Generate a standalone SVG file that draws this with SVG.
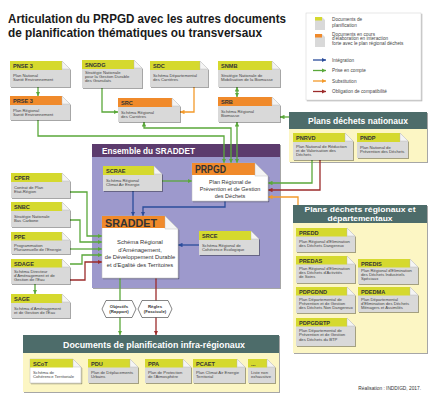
<svg xmlns="http://www.w3.org/2000/svg" width="429" height="400" viewBox="0 0 429 400">
<defs>
<filter id="sh" x="-10%" y="-10%" width="130%" height="130%"><feDropShadow dx="1" dy="1" stdDeviation="0.6" flood-color="#000" flood-opacity="0.35"/></filter>
<marker id="mg" viewBox="0 0 6 6" refX="6" refY="3" markerWidth="4.5" markerHeight="4.5" markerUnits="userSpaceOnUse" orient="auto-start-reverse"><path d="M0,0L6,3L0,6z" fill="#5aa83a"/></marker>
<marker id="mb" viewBox="0 0 6 6" refX="6" refY="3" markerWidth="4.5" markerHeight="4.5" markerUnits="userSpaceOnUse" orient="auto-start-reverse"><path d="M0,0L6,3L0,6z" fill="#2b4d9b"/></marker>
<marker id="mo" viewBox="0 0 6 6" refX="6" refY="3" markerWidth="4.5" markerHeight="4.5" markerUnits="userSpaceOnUse" orient="auto-start-reverse"><path d="M0,0L6,3L0,6z" fill="#f39a2b"/></marker>
<marker id="mr" viewBox="0 0 6 6" refX="6" refY="3" markerWidth="4.5" markerHeight="4.5" markerUnits="userSpaceOnUse" orient="auto-start-reverse"><path d="M0,0L6,3L0,6z" fill="#9c2b2b"/></marker>
<style>
.db{fill:#d9d9d9;filter:url(#sh)}
.dw{fill:#fff;stroke:#b8b8b8;stroke-width:.5;filter:url(#sh)}
.hy{fill:#d5d92e}
.ho{fill:#f08a2b}
.fd{fill:#f4f4f4;stroke:#b0b0b0;stroke-width:.4}
.hd{font-family:'Liberation Sans',sans-serif;font-weight:bold;font-size:5.6px;fill:#333}
.bd{font-family:'Liberation Sans',sans-serif;font-size:4.2px;fill:#444}
.bc{font-family:'Liberation Sans',sans-serif;fill:#333;text-anchor:middle}
.th{fill:#4e6c6b;filter:url(#sh)}
.tb{fill:#fcf6c4;filter:url(#sh)}
.tt{font-family:'Liberation Sans',sans-serif;font-weight:bold;fill:#fff;text-anchor:middle}
.g{stroke:#5aa83a}.b{stroke:#2b4d9b}.o{stroke:#f39a2b}.r{stroke:#9c2b2b}
.lg{font-family:'Liberation Sans',sans-serif;font-size:4.7px;fill:#444}
.hx{fill:#fff;stroke:#333;stroke-width:.6}
.hxt{font-family:'Liberation Sans',sans-serif;font-weight:bold;font-size:4.3px;fill:#333;text-anchor:middle}
</style>
</defs>
<rect width="429" height="400" fill="#fff"/>

<g id="title" font-family="'Liberation Sans',sans-serif" font-weight="bold" font-size="12.5" fill="#1a1a1a">
<text x="8" y="23" textLength="278" lengthAdjust="spacingAndGlyphs">Articulation du PRPGD avec les autres documents</text>
<text x="8" y="37" textLength="254" lengthAdjust="spacingAndGlyphs">de planification thématiques ou transversaux</text>
</g>

<g id="legend">
<rect x="306" y="13" width="115" height="87" fill="#fff" stroke="#d0d0d0" stroke-width=".5" filter="url(#sh)"/>
<path d="M315,17h7l3,3v10h-10z" fill="#d9d9d9"/><rect x="315" y="17" width="7" height="3.5" class="hy"/>
<path d="M315,34h7l3,3v10h-10z" fill="#d9d9d9"/><rect x="315" y="34" width="7" height="3.5" class="ho"/>
<text class="lg" x="332" y="21">Documents de</text>
<text class="lg" x="332" y="26.5">planification</text>
<text class="lg" x="332" y="35.5">Documents en cours</text>
<text class="lg" x="332" y="40.3">d'élaboration en interaction</text>
<text class="lg" x="332" y="45.1">forte avec le plan régional déchets</text>
<path class="b" d="M313,60H326" fill="none" stroke-width="1.3" marker-end="url(#mb)"/>
<path class="g" d="M313,70.5H326" fill="none" stroke-width="1.3" marker-end="url(#mg)"/>
<path class="o" d="M313,81H326" fill="none" stroke-width="1.3" marker-end="url(#mo)"/>
<path class="r" d="M313,91.5H326" fill="none" stroke-width="1.3" marker-end="url(#mr)"/>
<text class="lg" x="332" y="61.6">Intégration</text>
<text class="lg" x="332" y="72.1">Prise en compte</text>
<text class="lg" x="332" y="82.6">Substitution</text>
<text class="lg" x="332" y="93.1">Obligation de compatibilité</text>
</g>

<g id="ensemble-sraddet">
<rect x="92" y="144" width="188" height="13" fill="#5b3b6d" filter="url(#sh)"/>
<rect x="92" y="157" width="188" height="131" fill="#9d99cc" filter="url(#sh)"/>
<text class="tt" x="102" y="153.5" font-size="9.5" style="text-anchor:start" textLength="93" lengthAdjust="spacingAndGlyphs">Ensemble du SRADDET</text>
</g>

<g id="plans-nationaux">
<rect class="th" x="289" y="112" width="138" height="17"/>
<rect class="tb" x="289" y="129" width="138" height="33"/>
<text class="tt" x="358" y="124" font-size="9" textLength="100" lengthAdjust="spacingAndGlyphs">Plans déchets nationaux</text>
</g>

<g id="plans-regionaux">
<rect class="th" x="293" y="205" width="134" height="18"/>
<rect class="tb" x="293" y="223" width="134" height="130"/>
<text class="tt" x="360" y="212" font-size="7.8" textLength="111" lengthAdjust="spacingAndGlyphs">Plans déchets régionaux et</text>
<text class="tt" x="360" y="220.5" font-size="7.8" textLength="65" lengthAdjust="spacingAndGlyphs">départementaux</text>
</g>

<g id="infra-regionaux">
<rect class="th" x="23" y="335" width="256" height="18"/>
<rect class="tb" x="23" y="353" width="256" height="39"/>
<text class="tt" x="154" y="347.5" font-size="9" textLength="182" lengthAdjust="spacingAndGlyphs">Documents de planification infra-régionaux</text>
</g>

<g id="connectors" fill="none" stroke-width="1.3">
<path class="g" d="M38,87V96" marker-end="url(#mg)"/>
<path class="g" d="M102,88V112H118" marker-end="url(#mg)"/>
<path class="o" d="M194,87V112H180" marker-end="url(#mo)"/>
<path class="g" d="M237,87V97" marker-start="url(#mg)" marker-end="url(#mg)"/>
<path class="g" d="M38,120V136H224V163" marker-end="url(#mg)"/>
<path class="g" d="M144,122V128H231V163" marker-start="url(#mg)" marker-end="url(#mg)"/>
<path class="g" d="M237,122V163" marker-start="url(#mg)" marker-end="url(#mg)"/>
<path class="g" d="M289,117H280" marker-end="url(#mg)"/>
<path class="g" d="M312,160V183H268" marker-end="url(#mg)"/>
<path class="r" d="M320,160V190H268" marker-end="url(#mr)"/>
<path class="o" d="M298,205V197H268" marker-end="url(#mo)"/>
<path class="g" d="M162,181H192" marker-end="url(#mg)"/>
<path class="b" d="M133,191V216" marker-end="url(#mb)"/>
<path class="b" d="M225,201V207H143V216" marker-end="url(#mb)"/>
<path class="b" d="M199,245H178" marker-end="url(#mb)"/>
<path class="g" d="M70,192H87V236H102" marker-end="url(#mg)"/>
<path class="g" d="M70,220H80V242H102" marker-end="url(#mg)"/>
<path class="g" d="M70,249H102" marker-end="url(#mg)"/>
<path class="g" d="M70,264H82V255H102" marker-end="url(#mg)"/>
<path class="r" d="M70,280H85V262H102" marker-end="url(#mr)"/>
<path class="g" d="M35,284V294" marker-end="url(#mg)"/>
<path class="g" d="M120,278V335" marker-end="url(#mg)"/>
<path class="r" d="M156,278V335" marker-end="url(#mr)"/>
</g>

<g id="edge-labels">
<path class="hx" d="M102,309L106,300.5H132L136,309L132,317.5H106z"/>
<text class="hxt" x="119" y="307.6">Objectifs</text><text class="hxt" x="119" y="312.6">(Rapport)</text>
<path class="hx" d="M138,309L142,300.5H168L172,309L168,317.5H142z"/>
<text class="hxt" x="155" y="307.6">Règles</text><text class="hxt" x="155" y="312.6">(Fascicule)</text>
</g>

<g id="PNSE3"><path class="db" d="M10,61h52l8,8v18h-60z"/><rect class="hy" x="10" y="61" width="52" height="9"/><path class="fd" d="M62,61v8h8z"/>
<text class="hd" x="13" y="68">PNSE 3</text><text class="bd" x="13" y="76.5">Plan National</text><text class="bd" x="13" y="80.7">Santé Environnement</text></g>
<g id="SNGDG"><path class="db" d="M82,60h52l8,8v20h-60z"/><rect class="hy" x="82" y="60" width="52" height="9"/><path class="fd" d="M134,60v8h8z"/>
<text class="hd" x="85" y="67">SNGDG</text><text class="bd" x="85" y="73.5">Stratégie Nationale</text><text class="bd" x="85" y="77.9">pour la Gestion Durable</text><text class="bd" x="85" y="82.3">des Granulats</text></g>
<g id="SDC"><path class="db" d="M150,61h50l8,8v18h-58z"/><rect class="hy" x="150" y="61" width="50" height="9"/><path class="fd" d="M200,61v8h8z"/>
<text class="hd" x="153" y="68">SDC</text><text class="bd" x="153" y="76.5">Schéma Départemental</text><text class="bd" x="153" y="80.7">des Carrières</text></g>
<g id="SNMB"><path class="db" d="M218,61h54l8,8v18h-62z"/><rect class="hy" x="218" y="61" width="54" height="9"/><path class="fd" d="M272,61v8h8z"/>
<text class="hd" x="221" y="68">SNMB</text><text class="bd" x="221" y="76.5">Stratégie Nationale de</text><text class="bd" x="221" y="80.7">Mobilisation de la Biomasse</text></g>
<g id="PRSE3"><path class="db" d="M10,96h52l8,8v16h-60z"/><rect class="ho" x="10" y="96" width="52" height="9"/><path class="fd" d="M62,96v8h8z"/>
<text class="hd" x="13" y="103">PRSE 3</text><text class="bd" x="13" y="111.5">Plan Régional</text><text class="bd" x="13" y="115.7">Santé Environnement</text></g>
<g id="SRC"><path class="db" d="M118,98h54l8,8v16h-62z"/><rect class="ho" x="118" y="98" width="54" height="9"/><path class="fd" d="M172,98v8h8z"/>
<text class="hd" x="121" y="105">SRC</text><text class="bd" x="121" y="113.5">Schéma Régional</text><text class="bd" x="121" y="117.7">des Carrières</text></g>
<g id="SRB"><path class="db" d="M218,97h54l8,8v17h-62z"/><rect class="ho" x="218" y="97" width="54" height="9"/><path class="fd" d="M272,97v8h8z"/>
<text class="hd" x="221" y="104">SRB</text><text class="bd" x="221" y="112.5">Schéma Régional</text><text class="bd" x="221" y="116.7">Biomasse</text></g>

<g id="CPER"><path class="db" d="M11,173h51l8,8v17h-59z"/><rect class="hy" x="11" y="173" width="51" height="9"/><path class="fd" d="M62,173v8h8z"/>
<text class="hd" x="14" y="180">CPER</text><text class="bd" x="14" y="188.5">Contrat de Plan</text><text class="bd" x="14" y="192.7">Etat-Région</text></g>
<g id="SNBC"><path class="db" d="M11,202h51l8,8v17h-59z"/><rect class="hy" x="11" y="202" width="51" height="9"/><path class="fd" d="M62,202v8h8z"/>
<text class="hd" x="14" y="209">SNBC</text><text class="bd" x="14" y="217.5">Stratégie Nationale</text><text class="bd" x="14" y="221.7">Bas Carbone</text></g>
<g id="PPE"><path class="db" d="M11,232h51l8,8v14h-59z"/><rect class="hy" x="11" y="232" width="51" height="8.5"/><path class="fd" d="M62,232v8h8z"/>
<text class="hd" x="14" y="238.8">PPE</text><text class="bd" x="14" y="246.5">Programmation</text><text class="bd" x="14" y="250.7">Pluriannuelle de l'Energie</text></g>
<g id="SDAGE"><path class="db" d="M11,259h51l8,8v17h-59z"/><rect class="hy" x="11" y="259" width="51" height="8.5"/><path class="fd" d="M62,259v8h8z"/>
<text class="hd" x="14" y="265.8">SDAGE</text><text class="bd" x="14" y="272.5">Schéma Directeur</text><text class="bd" x="14" y="276.7">d'Aménagement et de</text><text class="bd" x="14" y="280.9">Gestion de l'Eau</text></g>
<g id="SAGE"><path class="db" d="M11,294h51l8,8v16h-59z"/><rect class="hy" x="11" y="294" width="51" height="9"/><path class="fd" d="M62,294v8h8z"/>
<text class="hd" x="14" y="301">SAGE</text><text class="bd" x="14" y="309.5">Schéma d'Aménagement</text><text class="bd" x="14" y="313.7">et de Gestion de l'Eau</text></g>

<g id="SCRAE"><path class="db" d="M103,166h51l8,8v17h-59z"/><rect class="hy" x="103" y="166" width="51" height="9"/><path class="fd" d="M154,166v8h8z"/>
<text class="hd" x="106" y="173">SCRAE</text><text class="bd" x="106" y="181.5">Schéma Régional</text><text class="bd" x="106" y="185.7">Climat Air Energie</text></g>
<g id="SRCE"><path class="db" d="M199,231h52l8,8v16h-60z"/><rect class="hy" x="199" y="231" width="52" height="9"/><path class="fd" d="M251,231v8h8z"/>
<text class="hd" x="202" y="238">SRCE</text><text class="bd" x="202" y="246.5">Schéma Régional de</text><text class="bd" x="202" y="250.7">Cohérence Ecologique</text></g>
<g id="PRPGD"><path class="dw" d="M192,163h63l13,13v25h-76z"/><rect class="ho" x="192" y="163" width="63" height="12"/><path class="fd" d="M255,163v13h13z"/>
<text class="hd" x="195" y="173.3" style="font-size:11px" textLength="31" lengthAdjust="spacingAndGlyphs">PRPGD</text>
<text class="bc" x="230" y="184" font-size="5.5">Plan Régional de</text><text class="bc" x="230" y="191" font-size="5.5">Prévention et de Gestion</text><text class="bc" x="230" y="198" font-size="5.5">des Déchets</text></g>
<g id="SRADDET"><path class="dw" d="M102,216h63l13,13v49h-76z"/><rect class="ho" x="102" y="216" width="63" height="12"/><path class="fd" d="M165,216v13h13z"/>
<text class="hd" x="105" y="226.8" style="font-size:11.5px" textLength="52" lengthAdjust="spacingAndGlyphs">SRADDET</text>
<text class="bc" x="140" y="244" font-size="5.8">Schéma Régional</text><text class="bc" x="140" y="251.5" font-size="5.8">d'Aménagement,</text><text class="bc" x="140" y="259" font-size="5.8">de Développement Durable</text><text class="bc" x="140" y="266.5" font-size="5.8">et d'Egalité des Territoires</text></g>

<g id="PNRVD"><path class="db" d="M293,133h52l8,8v19h-60z"/><rect class="hy" x="293" y="133" width="52" height="9"/><path class="fd" d="M345,133v8h8z"/>
<text class="hd" x="296" y="140">PNRVD</text><text class="bd" x="296" y="147.5">Plan National de Réduction</text><text class="bd" x="296" y="151.9">et de Valorisation des</text><text class="bd" x="296" y="156.3">Déchets</text></g>
<g id="PNDP"><path class="db" d="M357,133h43l8,8v17h-51z"/><rect class="hy" x="357" y="133" width="43" height="9"/><path class="fd" d="M400,133v8h8z"/>
<text class="hd" x="360" y="140">PNDP</text><text class="bd" x="360" y="148.5">Plan National de</text><text class="bd" x="360" y="152.7">Prévention des Déchets</text></g>

<g id="PREDD"><path class="db" d="M296,228h51l8,8v16h-59z"/><rect class="hy" x="296" y="228" width="51" height="8.5"/><path class="fd" d="M347,228v8h8z"/>
<text class="hd" x="299" y="234.8">PREDD</text><text class="bd" x="299" y="242.5">Plan Régional d'Elimination</text><text class="bd" x="299" y="246.9">des Déchets Dangereux</text></g>
<g id="PREDAS"><path class="db" d="M296,256h51l8,8v19h-59z"/><rect class="hy" x="296" y="256" width="51" height="8.5"/><path class="fd" d="M347,256v8h8z"/>
<text class="hd" x="299" y="262.8">PREDAS</text><text class="bd" x="299" y="269.5">Plan Régional d'Elimination</text><text class="bd" x="299" y="273.9">des Déchets d'Activités</text><text class="bd" x="299" y="278.3">de Soins</text></g>
<g id="PREDIS"><path class="db" d="M358,259h52l8,8v17h-60z"/><rect class="hy" x="358" y="259" width="52" height="8.5"/><path class="fd" d="M410,259v8h8z"/>
<text class="hd" x="361" y="265.8">PREDIS</text><text class="bd" x="361" y="271.5">Plan Régional d'Elimination</text><text class="bd" x="361" y="275.9">des Déchets Industriels</text><text class="bd" x="361" y="280.3">Spéciaux</text></g>
<g id="PDPGDND"><path class="db" d="M296,287h51l8,8v18h-59z"/><rect class="hy" x="296" y="287" width="51" height="8.5"/><path class="fd" d="M347,287v8h8z"/>
<text class="hd" x="299" y="293.8">PDPGDND</text><text class="bd" x="299" y="300.5">Plan Départemental de</text><text class="bd" x="299" y="304.9">Prévention et de Gestion</text><text class="bd" x="299" y="309.3">des Déchets Non Dangereux</text></g>
<g id="PDEDMA"><path class="db" d="M358,287h52l8,8v17h-60z"/><rect class="hy" x="358" y="287" width="52" height="8.5"/><path class="fd" d="M410,287v8h8z"/>
<text class="hd" x="361" y="293.8">PDEDMA</text><text class="bd" x="361" y="300.5">Plan Départemental</text><text class="bd" x="361" y="304.9">d'Elimination des Déchets</text><text class="bd" x="361" y="309.3">Ménagers et Assimilés</text></g>
<g id="PDPGDBTP"><path class="db" d="M296,318h51l8,8v20h-59z"/><rect class="hy" x="296" y="318" width="51" height="8.5"/><path class="fd" d="M347,318v8h8z"/>
<text class="hd" x="299" y="324.8">PDPGDBTP</text><text class="bd" x="299" y="332">Plan Départemental de</text><text class="bd" x="299" y="336.4">Prévention et de Gestion</text><text class="bd" x="299" y="340.8">des Déchets du BTP</text></g>

<g id="SCoT"><path class="dw" d="M30,359h43l8,8v16h-51z"/><rect class="hy" x="30" y="359" width="43" height="8.5"/><path class="fd" d="M73,359v8h8z"/>
<text class="hd" x="33" y="365.8">SCoT</text><text class="bd" x="33" y="373.5">Schéma de</text><text class="bd" x="33" y="377.9">Cohérence Territoriale</text></g>
<g id="PDU"><path class="db" d="M88,359h42l8,8v16h-50z"/><rect class="hy" x="88" y="359" width="42" height="8.5"/><path class="fd" d="M130,359v8h8z"/>
<text class="hd" x="91" y="365.8">PDU</text><text class="bd" x="91" y="373.5">Plan de Déplacements</text><text class="bd" x="91" y="377.9">Urbains</text></g>
<g id="PPA"><path class="db" d="M145,359h38l8,8v16h-46z"/><rect class="hy" x="145" y="359" width="38" height="8.5"/><path class="fd" d="M183,359v8h8z"/>
<text class="hd" x="148" y="365.8">PPA</text><text class="bd" x="148" y="373.5">Plan de Protection</text><text class="bd" x="148" y="377.9">de l'Atmosphère</text></g>
<g id="PCAET"><path class="db" d="M193,359h44l8,8v16h-52z"/><rect class="hy" x="193" y="359" width="44" height="8.5"/><path class="fd" d="M237,359v8h8z"/>
<text class="hd" x="196" y="365.8">PCAET</text><text class="bd" x="196" y="373.5">Plan Climat Air Energie</text><text class="bd" x="196" y="377.9">Territorial</text></g>
<g id="autres"><path class="db" d="M248,359h19l8,8v16h-27z"/><rect class="hy" x="248" y="359" width="19" height="8.5"/><path class="fd" d="M267,359v8h8z"/>
<text class="hd" x="251" y="365.8">...</text><text class="bd" x="251" y="373.5">Liste non</text><text class="bd" x="251" y="377.9">exhaustive</text></g>

<text x="421" y="390" font-family="'Liberation Sans',sans-serif" font-size="4.8" fill="#333" text-anchor="end">Réalisation : INDDIGD, 2017.</text>
</svg>
